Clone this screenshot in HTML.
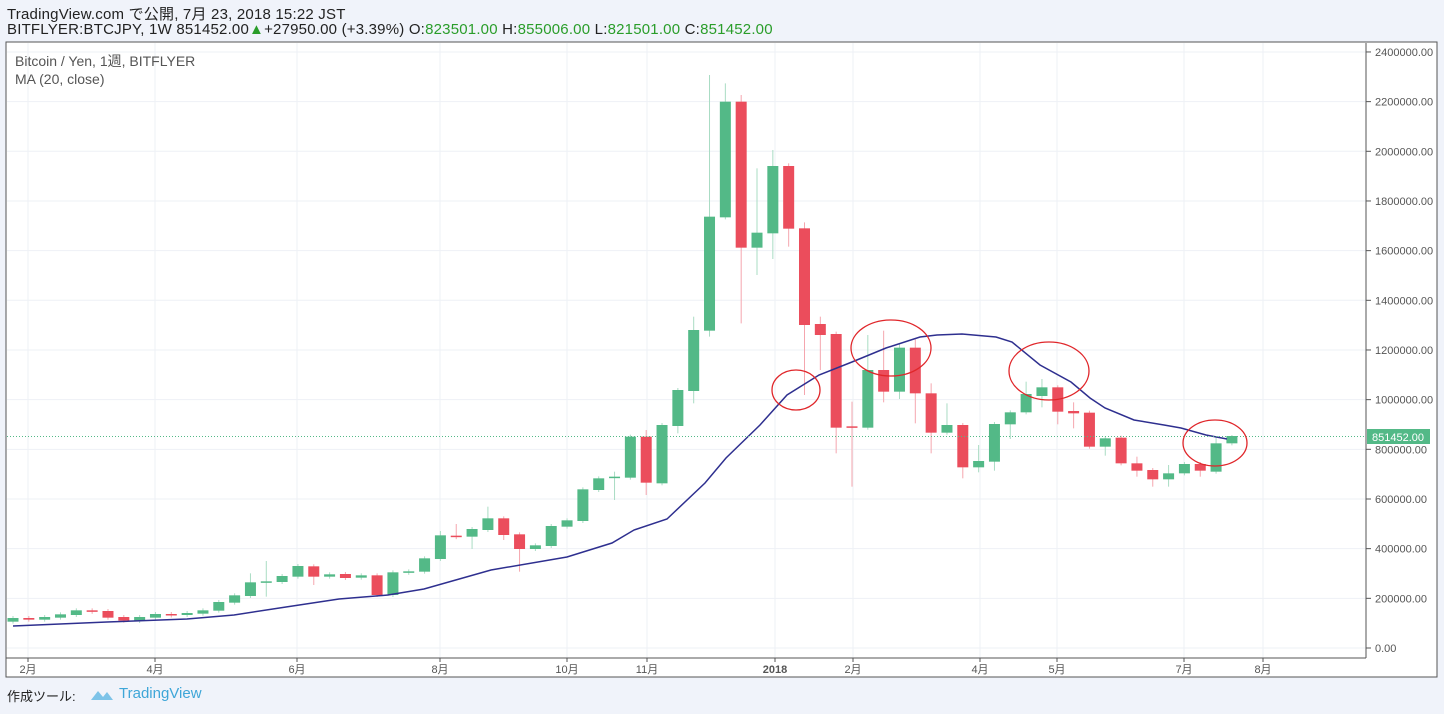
<!DOCTYPE html>
<html><head><meta charset="utf-8"><style>
body{margin:0;width:1444px;height:714px;background:#f0f3fa;font-family:"Liberation Sans","Noto Sans CJK JP",sans-serif;overflow:hidden;position:relative}
.t{position:absolute;white-space:nowrap}
</style></head><body>
<div class="t" style="left:7px;top:3px;font-size:15px;color:#222;letter-spacing:0.2px">TradingView.com で公開, 7月 23, 2018 15:22 JST</div>
<div class="t" style="left:7px;top:21px;font-size:15px;color:#222;letter-spacing:0.2px">BITFLYER:BTCJPY, 1W 851452.00<span style="color:#2a9d2a">▲</span>+27950.00 (+3.39%) O:<span style="color:#2a9d2a">823501.00</span> H:<span style="color:#2a9d2a">855006.00</span> L:<span style="color:#2a9d2a">821501.00</span> C:<span style="color:#2a9d2a">851452.00</span></div>
<svg id="s" width="1444" height="714" style="position:absolute;left:0;top:0" font-family="Liberation Sans, Noto Sans CJK JP, sans-serif"></svg>
<div class="t" style="left:7px;top:686px;font-size:13px;color:#222">作成ツール:</div>
<div class="t" style="left:119px;top:685px;font-size:15px;color:#3ea6d8">TradingView</div>
<svg style="position:absolute;left:89px;top:687px" width="26" height="16"><path d="M2 13 L9 4 L14 10 L18 5 L24 13 Z" fill="#7dc3e8"/></svg>
<script>
var s=document.getElementById('s'),h='';
h+='<rect x="6" y="42" width="1431" height="635" fill="#fff" stroke="#555" stroke-width="1"/>';
function Y(v){return 648-v/200000*49.67;}
for(var v=0;v<=2400000;v+=200000){var y=Y(v);h+='<line x1="7" x2="1366" y1="'+y+'" y2="'+y+'" stroke="#eef1f6"/>';
h+='<line x1="1366" x2="1371" y1="'+y+'" y2="'+y+'" stroke="#555"/><text x="1375" y="'+(y+4)+'" font-size="11" fill="#555">'+v+'.00</text>';}
var ms=[[28,'2月'],[155,'4月'],[297,'6月'],[440,'8月'],[567,'10月'],[647,'11月'],[775,'2018'],[853,'2月'],[980,'4月'],[1057,'5月'],[1184,'7月'],[1263,'8月']];
ms.forEach(function(m){h+='<line x1="'+m[0]+'" x2="'+m[0]+'" y1="43" y2="658" stroke="#eef1f6"/><line x1="'+m[0]+'" x2="'+m[0]+'" y1="658" y2="662" stroke="#555"/><text x="'+m[0]+'" y="673" font-size="11" text-anchor="middle" fill="#555" '+(m[1]=='2018'?'font-weight="bold"':'')+'>'+m[1]+'</text>';});
h+='<line x1="1366" x2="1366" y1="43" y2="658" stroke="#555"/><line x1="6" x2="1366" y1="658" y2="658" stroke="#555"/>';
h+='<text x="15" y="66" font-size="14" fill="#555">Bitcoin / Yen, 1週, BITFLYER</text><text x="15" y="84" font-size="14" fill="#555">MA (20, close)</text>';
var A=[['g',474,485],['r',474,479],['g',471,479],['g',463,473],['g',451,465],['r',451,455],['r',453,473],['r',471,482],['g',471,483],['g',462,473],['r',462,465],['g',459,465],['g',451,461],['g',426,452],['g',406,428],['g',367,408,340],['g',364,368,303,410],['g',348,366],['g',318,350],['r',319,350,0,375],['g',343,350],['r',342,354],['g',346,353],['r',346,405],['g',337,405],['g',334,338],['g',295,335],['g',226,297,213],['r',227,231,192],['g',207,230,0,267],['g',175,210,140],['r',175,225,0,240],['r',223,267,0,335],['g',256,267],['g',198,258],['g',181,200],['g',88,183]];
var B=[['g',1255,1290],['g',1250,1254,1235,1320],['g',1130,1253],['r',1130,1268,1110,1305],['g',1095,1270],['g',990,1098,0,1120],['g',810,993,770,1030],['g',470,812,45,830],['g',125,472,70],['r',125,563,105,790],['g',518,563,325,645],['g',318,520,270,597],['r',318,506,310,560],['r',505,795,487,1005],['r',792,825,770,930],['r',822,1103,815,1180],['r',1099,1103,1025,1280],['g',930,1103,825],['r',930,995,812,1027],['g',863,995,850,1017],['r',863,1000,838,1090],['r',1000,1118,970,1180],['g',1095,1118,1030],['r',1095,1222,0,1255],['g',1203,1222,1155,1237],['g',1092,1205,0,1232],['g',1057,1093,0,1137],['g',1002,1057,965],['g',982,1008,957,1042],['r',982,1055,0,1093],['r',1053,1060,1027,1105],['r',1058,1160],['g',1135,1160,0,1187],['r',1133,1210],['r',1210,1232,1190,1250],['r',1230,1258,0,1280],['g',1240,1258,1215,1280],['g',1212,1240],['r',1212,1232,0,1250],['g',1150,1235,1130],['g',1128,1150,1125]];
function cd(i,c,base){var x=13+15.83*i,t=base+c[1]/3,b=base+c[2]/3;if(b-t<1.5)b=t+1.5;
var hi=c[3]?base+c[3]/3:t-2,lo=c[4]?base+c[4]/3:b+2;var col=c[0]=='g'?'#53b987':'#eb4d5c',wc=c[0]=='g'?'#a9dcc3':'#f5a6ae';
h+='<line x1="'+x+'" x2="'+x+'" y1="'+hi+'" y2="'+lo+'" stroke="'+wc+'"/><rect x="'+(x-5.5)+'" y="'+t+'" width="11" height="'+(b-t)+'" fill="'+col+'"/>';}
A.forEach(function(c,i){cd(i,c,460);});B.forEach(function(c,i){cd(i+37,c,60);});
var ma=[[13,626],[107,622],[187,619],[234,615],[286,607],[339,599],[388,595],[424,589],[491,570],[567,557],[612,543],[634,530],[667,519],[705,483],[726,458],[760,425],[787,395],[819,375],[852,362],[886,348],[920,337],[937,335],[962,334],[996,337],[1012,342],[1040,365],[1071,382],[1090,398],[1105,408],[1134,420],[1164,425],[1181,428],[1206,435],[1227,439]];
h+='<polyline fill="none" stroke="#2e2f8f" stroke-width="1.5" points="'+ma.map(function(p){return p.join(',')}).join(' ')+'"/>';
h+='<line x1="7" x2="1366" y1="436.5" y2="436.5" stroke="#53b987" stroke-dasharray="1,2"/>';
h+='<rect x="1367" y="429" width="63" height="15" fill="#53b987"/><text x="1372" y="441" font-size="11" fill="#fff">851452.00</text>';
[[796,390,24,20],[891,348,40,28],[1049,371,40,29],[1215,443,32,23]].forEach(function(e){h+='<ellipse cx="'+e[0]+'" cy="'+e[1]+'" rx="'+e[2]+'" ry="'+e[3]+'" fill="none" stroke="#e0262a" stroke-width="1.3"/>';});
s.innerHTML=h;
</script>
</body></html>
